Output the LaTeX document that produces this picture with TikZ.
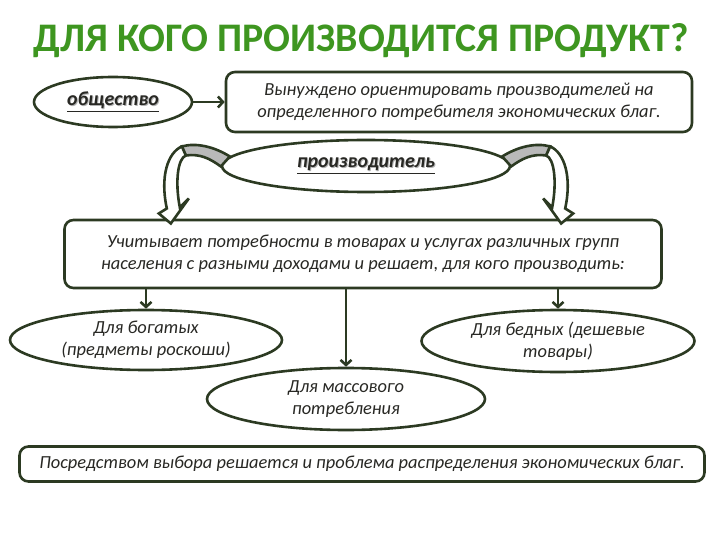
\documentclass[tikz,border=0pt]{standalone}
\usepackage{fontspec}
\usepackage{graphicx}
\setmainfont{Carlito}
\usepackage{tikz}
\usetikzlibrary{shapes.geometric, arrows.meta, positioning}
\definecolor{framegreen}{RGB}{44, 58, 34}
\definecolor{titlegreen}{RGB}{62, 150, 32}
\definecolor{textgray}{RGB}{40, 40, 36}
\definecolor{ribbongray}{RGB}{185, 185, 185}
\newcommand{\shadowed}[1]{\makebox[0pt][l]{\kern1bp\raisebox{-1bp}{\color{black!30}#1}}#1}

\begin{document}
\begin{tikzpicture}[
  x=1bp, y=-1bp,
  line width=2.6bp,
  base/.style={draw=framegreen, fill=white, text=textgray, align=center,
    font=\fontsize{18.5}{22.5}\selectfont\itshape, inner sep=0pt},
  oval/.style={base, ellipse},
  card/.style={base, rectangle, rounded corners=9bp},
  keyword/.style={oval, font=\fontsize{20}{22}\selectfont\bfseries\itshape},
  title/.style={text=titlegreen, font=\bfseries, inner sep=0pt, anchor=base},
  arrow/.style={-{Straight Barb[length=5bp, width=11bp]}, draw=framegreen},
  bentarrow/.pic={
    \filldraw[draw=framegreen, fill=ribbongray]
      (0,0) .. controls (-16,-10) and (-34,-14) .. (-48,-10) -- (-44,-1)
      .. controls (-30,-3) and (-20,2) .. (-9,10) -- cycle;
    \filldraw[draw=framegreen, fill=white]
      (-48,-10) .. controls (-62,-4) and (-70,20) .. (-63,52) -- (-71,57)
      -- (-59,67) -- (-41,42) -- (-50,51)
      .. controls (-55,25) and (-52,2) .. (-44,-1) -- cycle;
  }
]
\useasboundingbox (0,0) rectangle (720,540);

% Title
\node[title] (title) at (361,52) {\resizebox{655bp}{28bp}{ДЛЯ КОГО ПРОИЗВОДИТСЯ ПРОДУКТ?}};

% Society and its influence
\node[keyword, minimum width=158bp, minimum height=50bp] (society) at (113,102)
  {\underline{\shadowed{общество}}};
\node[card, minimum width=466bp, minimum height=60bp] (orient) at (459,102)
  {Вынуждено ориентировать производителей на\\определенного потребителя экономических благ.};

% Producer
\node[keyword, minimum width=288bp, minimum height=52bp] (producer) at (366,166)
  {\underline{\shadowed{производитель}}};

% Needs
\node[card, minimum width=597bp, minimum height=68bp] (needs) at (363,254)
  {Учитывает потребности в товарах и услугах различных групп\\населения с разными доходами и решает, для кого производить:};

% Consumer groups
\node[oval, minimum width=272bp, minimum height=60bp] (rich) at (146,340)
  {Для богатых\\(предметы роскоши)};
\node[oval, minimum width=273bp, minimum height=62bp] (poor) at (558,341)
  {Для бедных (дешевые\\товары)};
\node[oval, minimum width=278bp, minimum height=62bp] (mass) at (346,399)
  {Для массового\\потребления};

% Conclusion
\node[card, minimum width=685bp, minimum height=35bp] (choice) at (362,464)
  {Посредством выбора решается и проблема распределения экономических благ.};

% Arrows
\draw[arrow] (society) -- (orient);
\path (producer.176) pic {bentarrow};
\path (producer.4) pic[xscale=-1] {bentarrow};
\draw[arrow] (needs.south -| rich.north) -- (rich.north);
\draw[arrow] (needs.south -| mass.north) -- (mass.north);
\draw[arrow] (needs.south -| poor.north) -- (poor.north);

\end{tikzpicture}
\end{document}
